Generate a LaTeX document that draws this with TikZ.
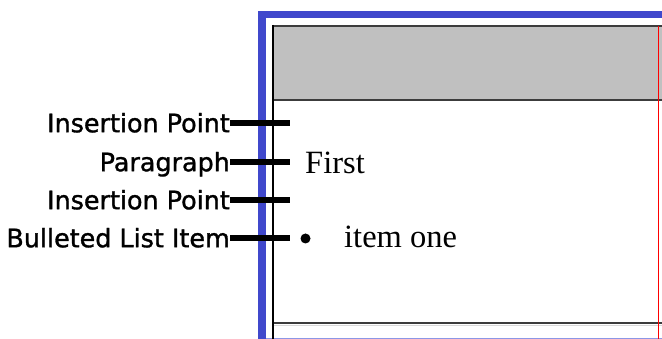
\documentclass[tikz,border=0pt]{standalone}
\usepackage{fontspec}
\setmainfont{Liberation Serif}
\newfontfamily\labfont[RawFeature={embolden=1.2}]{DejaVu Sans}
\definecolor{frameblue}{RGB}{64,72,204}
\definecolor{lightblue}{RGB}{140,150,230}
\definecolor{headgray}{RGB}{192,192,192}
\definecolor{rulegray}{RGB}{60,60,60}
\begin{document}
\begin{tikzpicture}[x=1pt,y=-1pt,
  lab/.style={font=\labfont\fontsize{25.4}{30}\selectfont, inner sep=0pt, text height=18.5pt, text depth=0pt, anchor=east},
  body/.style={font=\fontsize{32.5}{36}\selectfont, inner sep=0pt, anchor=base west},
  leader/.style={line width=6pt, black},
  rule/.style={line width=1.8pt, rulegray}]
\useasboundingbox (0,0) rectangle (662,339);
% blue frame
\fill[frameblue] (258,11) rectangle (266,339);
\fill[frameblue] (258,11) rectangle (662,18);
\draw[lightblue, line width=1pt] (266,338.5) -- (662,338.5);
% table
\fill[headgray] (273,26) rectangle (662,100);
\draw[rule] (273,26) -- (662,26);
\draw[rule] (273,100) -- (662,100);
\draw[rule] (273,323) -- (662,323);
\draw[black!15, line width=1pt] (274,325.5) -- (662,325.5);
\draw[black, line width=1.5pt] (273,25) -- (273,339);
\draw[red, line width=1pt] (658,26) -- (658,339);
% labels
\node[lab] (l1) at (230,123) {Insertion Point};
\node[lab] (l2) at (230,162) {Paragraph};
\node[lab] (l3) at (230,200) {Insertion Point};
\node[lab] (l4) at (230,238) {Bulleted List Item};
\coordinate (e1) at (290,123);
\coordinate (e2) at (290,162);
\coordinate (e3) at (290,200);
\coordinate (e4) at (290,238);
\draw[leader] (l1.east) -- (e1);
\draw[leader] (l2.east) -- (e2);
\draw[leader] (l3.east) -- (e3);
\draw[leader] (l4.east) -- (e4);
% content
\node[body] (p1) at (305,174) {First};
\node[circle, fill=black, inner sep=0pt, minimum size=10pt] (b1) at (305.5,238.5) {};
\node[body] (i1) at (344,248) {item one};
\end{tikzpicture}
\end{document}
